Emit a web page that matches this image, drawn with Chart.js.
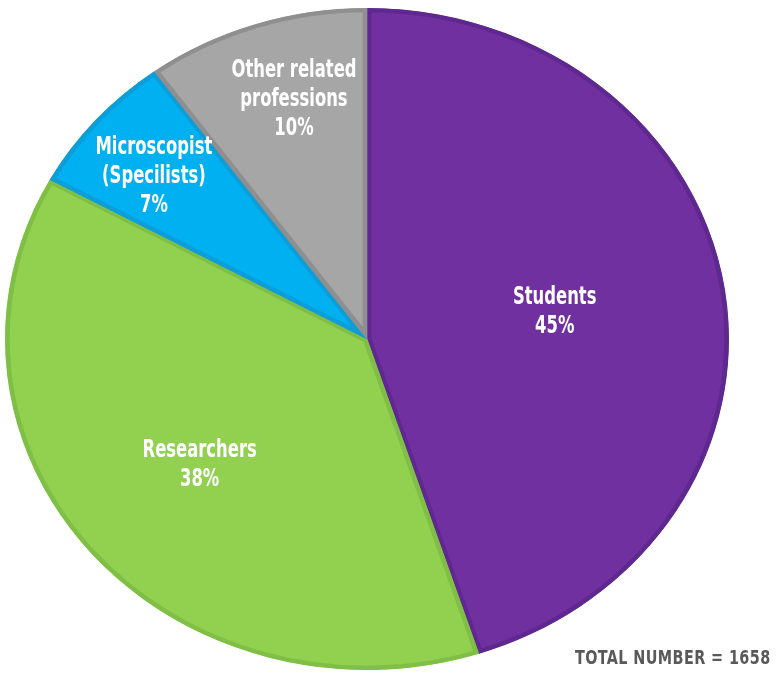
<!DOCTYPE html>
<html>
<head>
<meta charset="utf-8">
<script src="https://cdn.jsdelivr.net/npm/chart.js@4.4.0/dist/chart.umd.min.js"></script>
<style>
  html, body { margin: 0; padding: 0; background: #ffffff; }
  #wrap { position: relative; width: 777px; height: 677px; }
  #total {
    position: absolute; right: 6px; top: 645px;
    font: bold 20px "DejaVu Sans Condensed", "DejaVu Sans", sans-serif;
    color: #595959; letter-spacing: 0.5px;
    transform: scaleX(0.8); transform-origin: right center;
    white-space: nowrap;
  }
</style>
</head>
<body>
<div id="wrap">
  <canvas id="pieChart" width="777" height="677"></canvas>
  <div id="total">TOTAL NUMBER = 1658</div>
</div>
<script>
// Data
const categories = ['Students', 'Researchers', ['Microscopist', '(Specilists)'], ['Other related', 'professions']];
const shares = [45, 38, 7, 10];

const fillColors = ['#7030a0', '#92d050', '#00b0f0', '#a6a6a6'];
const edgeColors = ['#5f2790', '#80bf45', '#0d9ed8', '#8f8f8f'];
// where each label sits: fraction of radius, plus a small nudge in px
const labelRadius = [0.525, 0.6, 0.77, 0.76];
const labelNudge = [[0, 0], [0, 0], [-4, 6], [12, 0]];

// the reference pie is a little wider than tall
const stretchX = 362 / 331;
// the reference lettering is a tall, narrow face
const textSqueeze = 0.76;

const ellipsePlugin = {
    id: 'ellipse',
    beforeDatasetsDraw(chart) {
        const arc = chart.getDatasetMeta(0).data[0];
        const ctx = chart.ctx;
        ctx.save();
        ctx.translate(arc.x, arc.y);
        ctx.scale(stretchX, 1);
        ctx.translate(-arc.x, -arc.y);
    },
    afterDatasetsDraw(chart) {
        chart.ctx.restore();
    }
};

const labelPlugin = {
    id: 'sliceLabels',
    afterDraw(chart) {
        const ctx = chart.ctx;
        const meta = chart.getDatasetMeta(0);
        ctx.fillStyle = '#ffffff';
        ctx.font = 'bold 24px "DejaVu Sans Condensed", "DejaVu Sans", sans-serif';
        ctx.textAlign = 'center';
        ctx.textBaseline = 'middle';
        meta.data.forEach((arc, i) => {
            const mid = (arc.startAngle + arc.endAngle) / 2;
            const r = arc.outerRadius * labelRadius[i];
            const x = arc.x + Math.cos(mid) * r * stretchX + labelNudge[i][0];
            const y = arc.y + Math.sin(mid) * r + labelNudge[i][1];
            const name = chart.data.labels[i];
            const lines = (Array.isArray(name) ? name : [name]).concat(shares[i] + '%');
            const lh = 29;
            const top = y - (lines.length - 1) * lh / 2;
            ctx.save();
            ctx.translate(x, 0);
            ctx.scale(textSqueeze, 1);
            lines.forEach((t, k) => ctx.fillText(t, 0, top + k * lh));
            ctx.restore();
        });
    }
};

document.addEventListener('DOMContentLoaded', function() {
    const ctx = document.getElementById('pieChart').getContext('2d');
    new Chart(ctx, {
        type: 'pie',
        data: {
            labels: categories,
            datasets: [{
                data: shares,
                backgroundColor: fillColors,
                borderColor: edgeColors,
                borderWidth: 4,
                borderAlign: 'inner',
                clip: false
            }]
        },
        options: {
            responsive: false,
            animation: false,
            layout: { padding: { top: 8, bottom: 7, left: 20, right: 63 } },
            plugins: {
                legend: { display: false },
                tooltip: { enabled: false }
            }
        },
        plugins: [ellipsePlugin, labelPlugin]
    });
});
</script>
</body>
</html>
